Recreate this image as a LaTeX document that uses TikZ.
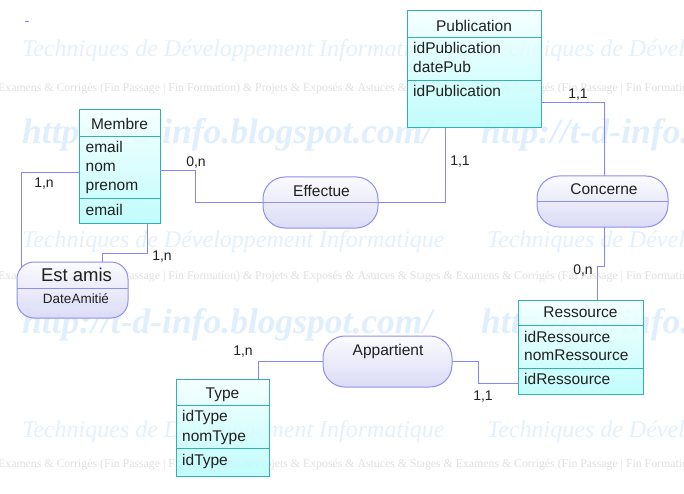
\documentclass[tikz,border=0pt]{standalone}
\usepackage{fontspec}
\setmainfont{Liberation Sans}
\newfontfamily\wmfont{Liberation Serif}
\usetikzlibrary{calc}
\definecolor{entB}{HTML}{2FB3AA}
\definecolor{entT}{HTML}{F4FFFF}
\definecolor{entL}{HTML}{BCFCFC}
\definecolor{asB}{HTML}{8F8FF0}
\definecolor{asT}{HTML}{FBFBFF}
\definecolor{asL}{HTML}{D8D8F6}
\definecolor{conn}{HTML}{8585FF}
\definecolor{txt}{HTML}{202020}
\definecolor{wmblue}{HTML}{E4F1FC}
\definecolor{wmurlc}{HTML}{DFEFFD}
\definecolor{wmgray}{HTML}{E0E0E0}
\begin{document}
\begin{tikzpicture}[x=1pt,y=-1pt,
 entbox/.style={rectangle, draw=entB, line width=1pt, top color=entT, bottom color=entL, fill opacity=0.9, draw opacity=1, inner sep=0pt, outer sep=0pt, anchor=north west},
 entsep/.style={draw=entB, line width=1pt},
 asbox/.style={rectangle, rounded corners=22pt, draw=asB, line width=1pt, top color=asT, bottom color=asL, fill opacity=0.9, draw opacity=1, inner sep=0pt, outer sep=0pt, anchor=north west},
 assep/.style={draw=asB, line width=1pt},
 ename/.style={font=\fontsize{15.5}{19}\selectfont, text=txt, inner sep=0pt, anchor=base},
 eattr/.style={font=\fontsize{15.5}{19}\selectfont, text=txt, inner sep=0pt, anchor=base west},
 link/.style={draw=conn, line width=1pt},
 card/.style={font=\fontsize{14}{16}\selectfont, text=txt, inner sep=0pt, anchor=base},
 wmscript/.style={font=\wmfont\itshape\fontsize{24}{28}\selectfont, text=wmblue, inner sep=0pt, anchor=base west},
 wmurl/.style={font=\wmfont\bfseries\itshape\fontsize{35.5}{40}\selectfont, text=wmurlc, inner sep=0pt, anchor=base west},
 wmline/.style={font=\wmfont\fontsize{11.8}{14}\selectfont, text=wmgray, inner sep=0pt, anchor=base west},
]
\useasboundingbox (0,0) rectangle (684,494);
\fill[white] (0,0) rectangle (684,494);

% ---------- watermark ----------
\node[wmscript] (wmS1a) at (22,57) {Techniques de Développement Informatique};
\node[wmscript] (wmS1b) at (487,57) {Techniques de Développement Informatique};
\node[wmline] (wmL1) at (-2,92) {Examens \& Corrigés (Fin Passage | Fin Formation) \& Projets \& Exposés \& Astuces \& Stages \& Examens \& Corrigés (Fin Passage | Fin Formation) \& Projets};
\node[wmurl] (wmU1a) at (22,144) {http://t-d-info.blogspot.com/};
\node[wmurl] (wmU1b) at (481,144) {http://t-d-info.blogspot.com/};
\node[wmscript] (wmS2a) at (22,247) {Techniques de Développement Informatique};
\node[wmscript] (wmS2b) at (487,247) {Techniques de Développement Informatique};
\node[wmline] (wmL2) at (-2,279) {Examens \& Corrigés (Fin Passage | Fin Formation) \& Projets \& Exposés \& Astuces \& Stages \& Examens \& Corrigés (Fin Passage | Fin Formation) \& Projets};
\node[wmurl] (wmU2a) at (22,333) {http://t-d-info.blogspot.com/};
\node[wmurl] (wmU2b) at (481,333) {http://t-d-info.blogspot.com/};
\node[wmscript] (wmS3a) at (22,437) {Techniques de Développement Informatique};
\node[wmscript] (wmS3b) at (487,437) {Techniques de Développement Informatique};
\node[wmline] (wmL3) at (-2,467) {Examens \& Corrigés (Fin Passage | Fin Formation) \& Projets \& Exposés \& Astuces \& Stages \& Examens \& Corrigés (Fin Passage | Fin Formation) \& Projets};

% stray mark
\coordinate (dashA) at (25,21);
\coordinate (dashB) at (29,21);
\draw[link, line width=0.8pt] (dashA) -- (dashB);

% ---------- entities ----------
% Publication
\node[entbox, minimum width=134pt, minimum height=117pt] (pub) at (407,11) {};
\draw[entsep] ($(pub.north west)+(0,27)$) -- ($(pub.north east)+(0,27)$);
\draw[entsep] ($(pub.north west)+(0,69.5)$) -- ($(pub.north east)+(0,69.5)$);
\node[ename] (pubN) at ($(pub.north)+(0,20.5)$) {Publication};
\node[eattr] (pubA) at ($(pub.north west)+(6,43)$) {idPublication};
\node[eattr] (pubB) at ($(pub.north west)+(6,62)$) {datePub};
\node[eattr] (pubK) at ($(pub.north west)+(6,86)$) {idPublication};

% Membre
\node[entbox, minimum width=81pt, minimum height=113pt] (memb) at (79,110) {};
\draw[entsep] ($(memb.north west)+(0,27)$) -- ($(memb.north east)+(0,27)$);
\draw[entsep] ($(memb.north west)+(0,88.5)$) -- ($(memb.north east)+(0,88.5)$);
\node[ename] (membN) at ($(memb.north)+(0,20)$) {Membre};
\node[eattr] (membA) at ($(memb.north west)+(6.5,43)$) {email};
\node[eattr] (membB) at ($(memb.north west)+(6.5,62)$) {nom};
\node[eattr] (membC) at ($(memb.north west)+(6.5,81)$) {prenom};
\node[eattr] (membK) at ($(memb.north west)+(6.5,105)$) {email};

% Ressource
\node[entbox, minimum width=125pt, minimum height=94pt] (res) at (518,300) {};
\draw[entsep] ($(res.north west)+(0,25.5)$) -- ($(res.north east)+(0,25.5)$);
\draw[entsep] ($(res.north west)+(0,68.5)$) -- ($(res.north east)+(0,68.5)$);
\node[ename] (resN) at ($(res.north)+(0,17.5)$) {Ressource};
\node[eattr] (resA) at ($(res.north west)+(6,42)$) {idRessource};
\node[eattr] (resB) at ($(res.north west)+(6,60.5)$) {nomRessource};
\node[eattr] (resK) at ($(res.north west)+(6,84.5)$) {idRessource};

% Type
\node[entbox, minimum width=93pt, minimum height=97pt] (type) at (176,379) {};
\draw[entsep] ($(type.north west)+(0,26.7)$) -- ($(type.north east)+(0,26.7)$);
\draw[entsep] ($(type.north west)+(0,69)$) -- ($(type.north east)+(0,69)$);
\node[ename] (typeN) at ($(type.north)+(0,19.3)$) {Type};
\node[eattr] (typeA) at ($(type.north west)+(6,42.7)$) {idType};
\node[eattr] (typeB) at ($(type.north west)+(6,62)$) {nomType};
\node[eattr] (typeK) at ($(type.north west)+(6,86)$) {idType};

% ---------- associations ----------
\node[asbox, minimum width=115pt, minimum height=51pt] (eff) at (263,177) {};
\draw[assep] ($(eff.north west)+(0,25.5)$) -- ($(eff.north east)+(0,25.5)$);
\node[ename] (effN) at ($(eff.north)+(1,19.7)$) {Effectue};

\node[asbox, minimum width=131pt, minimum height=51pt] (conc) at (537,176) {};
\draw[assep] ($(conc.north west)+(0,26)$) -- ($(conc.north east)+(0,26)$);
\node[ename] (concN) at ($(conc.north)+(1.5,19)$) {Concerne};

\node[asbox, minimum width=129pt, minimum height=51pt] (app) at (323,336) {};
\node[ename] (appN) at ($(app.north)+(0.5,19)$) {Appartient};

\node[asbox, rounded corners=17pt, minimum width=111pt, minimum height=56pt] (estamis) at (17,262) {};
\draw[assep] ($(estamis.north west)+(0,26)$) -- ($(estamis.north east)+(0,26)$);
\node[ename, font=\fontsize{18.5}{22}\selectfont] (estN) at ($(estamis.north)+(4,19.7)$) {Est amis};
\node[ename, font=\fontsize{13.5}{16}\selectfont] (estA) at ($(estamis.north)+(3.5,41.3)$) {DateAmitié};

% ---------- connectors ----------
\coordinate (c1a) at (195.5,170.5);
\coordinate (c1b) at (195.5,202.5);
\draw[link] (memb.east |- c1a) -- (c1a) -- (c1b) -- (eff.west);

\coordinate (c2) at (445.5,202.5);
\draw[link] (eff.east) -- (c2) -- (c2 |- pub.south);

\coordinate (c3) at (604,102.5);
\draw[link] (pub.east |- c3) -- (c3) -- (c3 |- conc.north);

\coordinate (c4a) at (604,266);
\coordinate (c4b) at (597.5,266);
\draw[link] (c4a |- conc.south) -- (c4a) -- (c4b) -- (c4b |- res.north);

\coordinate (c5a) at (478,383);
\coordinate (c5b) at (478,361.5);
\draw[link] (res.west |- c5a) -- (c5a) -- (c5b) -- (app.east);

\coordinate (c6) at (258,361.5);
\draw[link] (app.west) -- (c6) -- (c6 |- type.north);

\coordinate (c7a) at (147,253);
\coordinate (c7b) at (102,253);
\draw[link] (c7a |- memb.south) -- (c7a) -- (c7b) -- (c7b |- estamis.north);

\coordinate (c8a) at (21,173);
\coordinate (c8b) at (21,267);
\draw[link] (memb.west |- c8a) -- (c8a) -- (c8b);

% ---------- cardinalities ----------
\node[card] (k1) at (196,166.5) {0,n};
\node[card] (k2) at (460,166) {1,1};
\node[card] (k3) at (578,99) {1,1};
\node[card] (k4) at (583,274) {0,n};
\node[card] (k5) at (483,400) {1,1};
\node[card] (k6) at (243,355) {1,n};
\node[card] (k7) at (162,260) {1,n};
\node[card] (k8) at (44,187.5) {1,n};
\end{tikzpicture}
\end{document}
